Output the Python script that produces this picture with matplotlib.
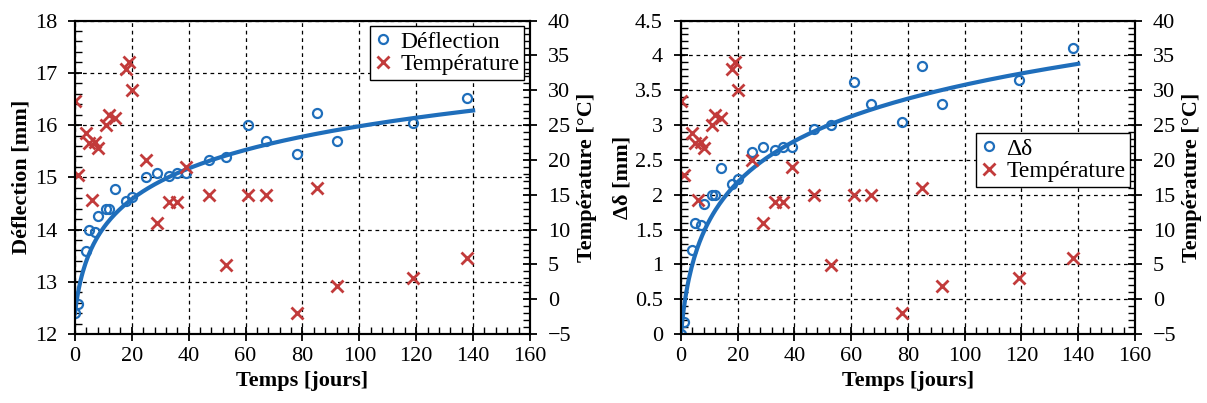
import numpy as np
import matplotlib
matplotlib.use("Agg")
import matplotlib.pyplot as plt
from matplotlib.ticker import MultipleLocator, FuncFormatter

plt.rcParams["font.family"] = ["Liberation Serif", "DejaVu Serif"]

# deflection measurements
t_defl = [0, 1, 4, 5, 7, 8, 11, 12, 14, 18, 20, 25, 29, 33, 36, 39,
          47, 53, 61, 67, 78, 85, 92, 119, 138]
deflection = [12.40, 12.57, 13.59, 13.99, 13.96, 14.26, 14.39, 14.39, 14.78,
              14.55, 14.62, 15.01, 15.09, 15.03, 15.08, 15.08, 15.34, 15.39,
              16.01, 15.69, 15.44, 16.24, 15.69, 16.03, 16.51]
delta = [0.0, 0.18, 1.21, 1.60, 1.56, 1.87, 2.00, 2.00, 2.38, 2.15, 2.23,
         2.61, 2.69, 2.64, 2.68, 2.69, 2.94, 3.00, 3.62, 3.30, 3.04, 3.85,
         3.30, 3.65, 4.11]

# temperature readings
t_temp = [0, 1, 4, 5, 6, 7, 8, 11, 12, 14, 18, 19, 20, 25, 29, 33, 36, 39,
          47, 53, 61, 67, 78, 85, 92, 119, 138]
temperature = [28.5, 17.8, 23.9, 22.4, 14.2, 22.6, 21.7, 25.0, 26.4, 26.0,
               33.1, 34.1, 30.0, 20.0, 10.9, 14.0, 14.0, 19.0, 14.9, 4.9,
               14.9, 14.9, -2.0, 16.0, 1.9, 3.0, 5.9]

# fitted creep curve: delta = A * ln(1 + t / TAU)
FIT_A, FIT_TAU, DEFL0 = 0.91, 2.0, 12.4
t_fit = np.linspace(0, 140, 300)
fit = FIT_A * np.log(1 + t_fit / FIT_TAU)

BLUE = "#1F6EBB"
RED = "#C23B3B"
FS = 16


def style_axes(ax, ax2):
    for a in (ax, ax2):
        for s in a.spines.values():
            s.set_linewidth(1.5)
        a.tick_params(which="major", direction="inout", length=10, width=1.3,
                      labelsize=FS)
        a.tick_params(which="minor", direction="in", length=5, width=1.0)
        a.tick_params(axis="y", which="major", pad=8)
    ax.tick_params(axis="x", which="major", pad=4)
    ax.set_xlim(0, 160)
    ax.xaxis.set_major_locator(MultipleLocator(20))
    ax.xaxis.set_minor_locator(MultipleLocator(4))
    ax.grid(True, which="major", color="black", ls=(0, (3, 3)), lw=0.9)
    ax.set_axisbelow(True)
    ax2.set_ylim(-5, 40)
    ax2.yaxis.set_major_locator(MultipleLocator(5))
    ax2.yaxis.set_minor_locator(MultipleLocator(1))
    ax.set_xlabel("Temps [jours]", fontsize=FS, fontweight="bold", labelpad=4)
    ax2.set_ylabel("Température [°C]", fontsize=FS, fontweight="bold",
                   labelpad=4)


fig = plt.figure(figsize=(12.07, 4.03), dpi=100)

# left panel: deflection
ax1 = fig.add_axes([0.0621, 0.171, 0.377, 0.778])
ax1b = ax1.twinx()
ax1.plot(t_fit, DEFL0 + fit, color=BLUE, lw=3, zorder=3)
h1, = ax1.plot(t_defl, deflection, "o", mfc="none", mec=BLUE, mew=1.6,
               ms=6.5, zorder=4, label="Déflection")
h2, = ax1b.plot(t_temp, temperature, "x", color=RED, mew=2, ms=9,
                label="Température")
ax1.set_ylim(12, 18)
ax1.yaxis.set_major_locator(MultipleLocator(1))
ax1.yaxis.set_minor_locator(MultipleLocator(0.2))
ax1.set_ylabel("Déflection [mm]", fontsize=FS, fontweight="bold", labelpad=2)
style_axes(ax1, ax1b)
ax1b.legend([h1, h2], ["Déflection", "Température"], loc="upper right",
            fontsize=17, frameon=True, fancybox=False, edgecolor="black",
            framealpha=1, handlelength=0.7, handletextpad=0.4,
            borderpad=0.2, labelspacing=0.05, borderaxespad=0.25)

# right panel: delta
ax2 = fig.add_axes([0.5642, 0.171, 0.3761, 0.778])
ax2b = ax2.twinx()
ax2.plot(t_fit, fit, color=BLUE, lw=3, zorder=3)
g1, = ax2.plot(t_defl, delta, "o", mfc="none", mec=BLUE, mew=1.6,
               ms=6.5, zorder=4, label="Δδ")
g2, = ax2b.plot(t_temp, temperature, "x", color=RED, mew=2, ms=9,
                label="Température")
ax2.set_ylim(0, 4.5)
ax2.yaxis.set_major_locator(MultipleLocator(0.5))
ax2.yaxis.set_minor_locator(MultipleLocator(0.1))
ax2.yaxis.set_major_formatter(FuncFormatter(lambda v, p: f"{v:g}"))
ax2.set_ylabel("Δδ [mm]", fontsize=FS, fontweight="bold", labelpad=2)
style_axes(ax2, ax2b)
ax2b.legend([g1, g2], ["Δδ", "Température"], loc="upper right",
            bbox_to_anchor=(0.99, 0.64), fontsize=17, frameon=True,
            fancybox=False, edgecolor="black", framealpha=1,
            handlelength=0.7, handletextpad=0.4, borderpad=0.2,
            labelspacing=0.05, borderaxespad=0.0)

fig.savefig("out.png", dpi=100)
